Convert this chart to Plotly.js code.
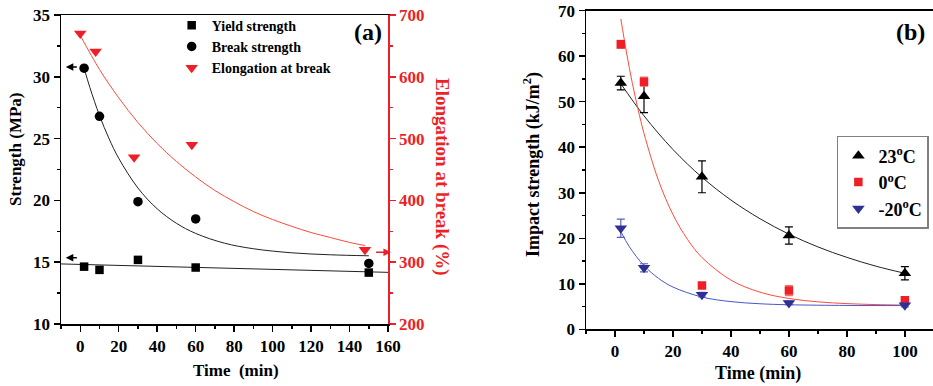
<!DOCTYPE html>
<html>
<head>
<meta charset="utf-8">
<script src="https://cdn.plot.ly/plotly-3.0.1.min.js"></script>
<style>html,body{margin:0;padding:0;background:#fff;}#chart{width:933px;height:386px;}</style>
</head>
<body>
<div id="chart"></div>
<script>
// ---------- Panel (a) data ----------
const timeA = [2, 10, 30, 60, 150];
const yieldStrength = [14.64, 14.38, 15.19, 14.57, 14.16];
const breakStrength = [30.7, 26.8, 19.9, 18.5, 14.9];
const elongTime = [0, 8, 28, 58, 148];
const elongation = [670, 641, 470, 490, 320];

// fitted curves
const yieldFitX = [-10, 160];
const yieldFitY = [14.86, 14.18];
const breakFitX = [2, 5, 10, 15, 20, 30, 40, 50, 60, 75, 90, 110, 130, 150];
const breakFitY = [30.69, 29.14, 26.87, 24.99, 23.41, 21.0, 19.32, 18.15, 17.33, 16.54, 16.09, 15.76, 15.60, 15.52];
const elongFitX = [0, 10, 20, 30, 40, 50, 60, 70, 80, 90, 100, 110, 120, 130, 140, 148];
const elongFitY = [667, 612, 566, 526, 492, 463, 438, 416, 398, 382, 369, 358, 348, 340, 332, 327];

// ---------- Panel (b) data ----------
const timeB = [2, 10, 30, 60, 100];
const impact23 = [54.1, 51.2, 33.5, 20.6, 12.3];
const err23 = [1.5, 3.6, 3.5, 1.9, 1.45];
const impact0 = [62.6, 54.4, 9.6, 8.5, 6.4];
const err0 = [0.9, 1.0, 0.5, 1.1, 0.5];
const impactM20 = [22.2, 13.5, 7.6, 5.8, 5.3];
const errM20 = [2.0, 0.9, 0.5, 0.4, 0.4];

const fit23X = [2, 10, 20, 30, 40, 50, 60, 70, 80, 90, 100];
const fit23Y = [53.96, 46.9, 39.5, 33.4, 28.4, 24.3, 20.9, 18.1, 15.8, 13.87, 12.3];
const fit0X = [2, 4, 6, 8, 10, 15, 20, 25, 30, 40, 50, 60, 70, 80, 90, 100];
const fit0Y = [68.2, 60.7, 54.0, 48.2, 43.05, 32.7, 25.2, 19.76, 15.78, 10.8, 8.16, 6.77, 6.03, 5.64, 5.43, 5.32];
const fitM20X = [2, 5, 10, 15, 20, 30, 40, 50, 60, 80, 100];
const fitM20Y = [21.5, 18.1, 14.0, 11.2, 9.28, 7.09, 6.08, 5.61, 5.39, 5.24, 5.21];

const legendA = ['Yield strength', 'Break strength', 'Elongation at break'];
const legendB = ['23<sup>o</sup>C', '0<sup>o</sup>C', '-20<sup>o</sup>C'];

const FONT = 'Liberation Serif, Times New Roman, serif';
const RED = '#ee1f26';
const BLUE = '#2e3192';

const traces = [
  // fits (a)
  {x: yieldFitX, y: yieldFitY, xaxis: 'x', yaxis: 'y', mode: 'lines', line: {color: '#222', width: 1}, showlegend: false, hoverinfo: 'skip'},
  {x: breakFitX, y: breakFitY, xaxis: 'x', yaxis: 'y', mode: 'lines', line: {color: '#222', width: 1, shape: 'spline'}, showlegend: false, hoverinfo: 'skip'},
  {x: elongFitX, y: elongFitY, xaxis: 'x', yaxis: 'y2', mode: 'lines', line: {color: '#ff4a3a', width: 1, shape: 'spline'}, showlegend: false, hoverinfo: 'skip'},
  // markers (a)
  {x: timeA, y: yieldStrength, xaxis: 'x', yaxis: 'y', mode: 'markers', name: legendA[0], legend: 'legend', legendgroup: 'a1',
   marker: {symbol: 'square', size: 8.5, color: '#000'}},
  {x: timeA, y: breakStrength, xaxis: 'x', yaxis: 'y', mode: 'markers', name: legendA[1], legend: 'legend', legendgroup: 'a2',
   marker: {symbol: 'circle', size: 9.5, color: '#000'}},
  {x: elongTime, y: elongation, xaxis: 'x', yaxis: 'y2', mode: 'markers', name: legendA[2], legend: 'legend', legendgroup: 'a3',
   marker: {symbol: 'triangle-down', size: 11, color: RED}},
  // fits (b)
  {x: fit23X, y: fit23Y, xaxis: 'x2', yaxis: 'y3', mode: 'lines', line: {color: '#222', width: 1, shape: 'spline'}, showlegend: false, hoverinfo: 'skip'},
  {x: fit0X, y: fit0Y, xaxis: 'x2', yaxis: 'y3', mode: 'lines', line: {color: '#ff4a3a', width: 1, shape: 'spline'}, showlegend: false, hoverinfo: 'skip'},
  {x: fitM20X, y: fitM20Y, xaxis: 'x2', yaxis: 'y3', mode: 'lines', line: {color: '#4a55c8', width: 1, shape: 'spline'}, showlegend: false, hoverinfo: 'skip'},
  // markers (b)
  {x: timeB, y: impact23, xaxis: 'x2', yaxis: 'y3', mode: 'markers', name: legendB[0], legend: 'legend2', legendgroup: 'b1',
   error_y: {type: 'data', array: err23, visible: true, color: '#000', thickness: 1.2, width: 4},
   marker: {symbol: 'triangle-up', size: 11, color: '#000'}},
  {x: timeB, y: impact0, xaxis: 'x2', yaxis: 'y3', mode: 'markers', name: legendB[1], legend: 'legend2', legendgroup: 'b2',
   error_y: {type: 'data', array: err0, visible: true, color: '#f07070', thickness: 1.2, width: 4},
   marker: {symbol: 'square', size: 8.5, color: RED}},
  {x: timeB, y: impactM20, xaxis: 'x2', yaxis: 'y3', mode: 'markers', name: legendB[2], legend: 'legend2', legendgroup: 'b3',
   error_y: {type: 'data', array: errM20, visible: true, color: '#5a5fb8', thickness: 1.2, width: 4},
   marker: {symbol: 'triangle-down', size: 11, color: BLUE}}
];

const tickFont = {family: FONT, size: 17, color: '#000', weight: 'bold'};
const baseAxis = {
  showgrid: false, zeroline: false, showline: true, linecolor: '#000', linewidth: 1.5,
  ticks: 'outside', ticklen: 6, tickwidth: 1.5, tickcolor: '#000', tickfont: tickFont
};

function label(x, y, text, size, color) {
  return {xref: 'paper', yref: 'paper', x: x / 933, y: 1 - y / 386, text: text, showarrow: false,
    xanchor: 'center', yanchor: 'middle', font: {family: FONT, size: size, weight: 'bold', color: color || '#000'}};
}
const elongTitle = label(442, 177, '<b>Elongation at break (%)</b>', 19, RED);
elongTitle.textangle = 90;
const strengthTitle = label(15, 150, 'Strength (MPa)', 17);
strengthTitle.textangle = -90;
const impactTitle = label(532, 165, 'Impact strength (kJ/m<sup>2</sup>)', 18);
impactTitle.textangle = -90;

const layout = {
  width: 933, height: 386,
  margin: {l: 0, r: 0, t: 0, b: 0},
  paper_bgcolor: '#fff', plot_bgcolor: 'rgba(0,0,0,0)',
  font: {family: FONT, color: '#000'},
  xaxis: Object.assign({}, baseAxis, {domain: [0.0654, 0.4159], range: [-10, 160], tick0: 0, dtick: 20, anchor: 'y', mirror: true,
    minor: {dtick: 10, ticklen: 3, ticks: 'outside', tickcolor: '#000', tickwidth: 1.5}}),
  yaxis: Object.assign({}, baseAxis, {domain: [0.1606, 0.9611], range: [10, 35], dtick: 5, anchor: 'x',
    minor: {dtick: 2.5, ticklen: 3, ticks: 'outside', tickcolor: '#000', tickwidth: 1.5}}),
  yaxis2: Object.assign({}, baseAxis, {overlaying: 'y', side: 'right', anchor: 'x', range: [200, 700], dtick: 100,
    linecolor: RED, tickcolor: RED, tickfont: {family: FONT, size: 17, color: RED, weight: 'bold'},
    minor: {dtick: 50, ticklen: 3, ticks: 'outside', tickcolor: RED, tickwidth: 1.5}}),
  xaxis2: Object.assign({}, baseAxis, {domain: [0.6281, 1.0], range: [-10, 109.7], tick0: 0, dtick: 20, anchor: 'y3', mirror: true,
    minor: {dtick: 10, ticklen: 3, ticks: 'outside', tickcolor: '#000', tickwidth: 1.5}}),
  yaxis3: Object.assign({}, baseAxis, {domain: [0.1469, 0.9723], range: [0, 70], dtick: 10, anchor: 'x2', mirror: true,
    minor: {dtick: 5, ticklen: 3, ticks: 'outside', tickcolor: '#000', tickwidth: 1.5}}),
  legend: {x: 0.184, y: 0.975, xanchor: 'left', yanchor: 'top', bgcolor: 'rgba(0,0,0,0)', borderwidth: 0,
    font: {family: FONT, size: 14, color: '#000', weight: 'bold'}, tracegroupgap: 0},
  legend2: {x: 0.897, y: 0.6477, xanchor: 'left', yanchor: 'top', bgcolor: '#fff', bordercolor: '#808080', borderwidth: 1.5,
    font: {family: FONT, size: 18, color: '#000', weight: 'bold'}, tracegroupgap: 0},
  annotations: [
    label(236, 370, 'Time  (min)', 17),
    strengthTitle,
    elongTitle,
    label(758, 373, 'Time (min)', 18),
    impactTitle,
    label(368, 32, '(a)', 24),
    label(910, 32, '(b)', 24),
    // arrows
    {xref: 'x', yref: 'y', x: -7.5, y: 30.8, axref: 'x', ayref: 'y', ax: -1, ay: 30.8, text: '', showarrow: true,
     arrowhead: 2, arrowsize: 1, arrowwidth: 1.5, arrowcolor: '#000', standoff: 0, startstandoff: 0},
    {xref: 'x', yref: 'y', x: -7.5, y: 15.37, axref: 'x', ayref: 'y', ax: -1, ay: 15.37, text: '', showarrow: true,
     arrowhead: 2, arrowsize: 1, arrowwidth: 1.5, arrowcolor: '#000', standoff: 0, startstandoff: 0},
    {xref: 'x', yref: 'y2', x: 161.5, y: 316, axref: 'x', ayref: 'y2', ax: 153, ay: 316, text: '', showarrow: true,
     arrowhead: 2, arrowsize: 1, arrowwidth: 1.5, arrowcolor: RED, standoff: 0, startstandoff: 0}
  ]
};

Plotly.newPlot('chart', traces, layout, {displayModeBar: false, staticPlot: true});
</script>
</body>
</html>
